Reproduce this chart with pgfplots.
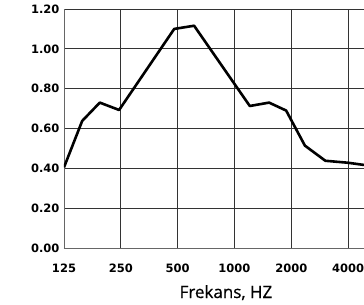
\documentclass[border=0pt]{standalone}
\usepackage{fontspec}
\setmainfont{DejaVu Sans}
\newfontfamily\labelfont{Open Sans}[FakeBold=0.6]
\usepackage{pgfplots}
\pgfplotsset{compat=1.18}
\begin{document}
\begin{tikzpicture}
\useasboundingbox (-64bp,-57bp) rectangle (300bp,248bp);
\begin{axis}[
  scale only axis,
  width=300bp, height=239bp,
  xmin=0, xmax=5.28,
  ymin=0, ymax=1.2,
  clip=true,
  axis lines*=left,
  axis line style={black!60, line width=0.9bp},
  xtick={0,1,2,3,4,5},
  xticklabels={125,250,500,1000,2000,4000},
  ytick={0,0.2,0.4,0.6,0.8,1.0,1.2},
  yticklabel style={/pgf/number format/fixed, /pgf/number format/fixed zerofill, /pgf/number format/precision=2, xshift=-1bp},
  /pgf/number format/assume math mode=true,
  major tick length=0pt,
  tick label style={font=\fontsize{11.5bp}{13bp}\selectfont\bfseries},
  xticklabel style={yshift=-12bp},
  grid=major,
  major grid style={black!80, line width=0.9bp},
  xlabel={Frekans, HZ},
  xlabel style={font=\labelfont\fontsize{17bp}{20bp}\selectfont, at={(axis cs:2.85,0)}, anchor=base, yshift=-50bp},
]
\addplot[black, line width=2.6bp, line join=round] coordinates {
  (0,0.405) (0.32,0.638) (0.63,0.73) (0.97,0.693) (1.94,1.10) (2.29,1.116)
  (3.27,0.713) (3.61,0.73) (3.91,0.69) (4.24,0.514) (4.60,0.438)
  (5.00,0.428) (5.28,0.417)
};
\end{axis}
\end{tikzpicture}
\end{document}
